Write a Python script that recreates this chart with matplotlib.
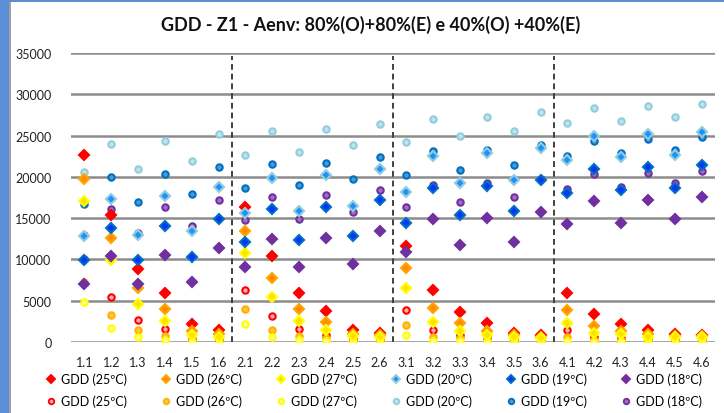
import matplotlib
matplotlib.use("Agg")
import matplotlib.pyplot as plt
from matplotlib.lines import Line2D
from matplotlib.patches import Rectangle

plt.rcParams['font.family'] = ['Lato', 'DejaVu Sans']

# categorias
cats = ['1.1', '1.2', '1.3', '1.4', '1.5', '1.6',
        '2.1', '2.2', '2.3', '2.4', '2.5', '2.6',
        '3.1', '3.2', '3.3', '3.4', '3.5', '3.6',
        '4.1', '4.2', '4.3', '4.4', '4.5', '4.6']

# losangos (80%)
d25 = [22700, 15400, 8900, 5950, 2200, 1500,
       16350, 10400, 5900, 3800, 1500, 1150,
       11650, 6300, 3600, 2300, 1050, 850,
       5950, 3450, 2150, 1400, 950, 900]
d26 = [19800, 12600, 6500, 4000, 1300, 950,
       13450, 7800, 3950, 2400, 1000, 900,
       8950, 4100, 2250, 1350, 800, 650,
       3850, 1950, 1300, 950, 750, 750]
d27 = [17050, 9900, 4550, 2600, 900, 650,
       10750, 5500, 2600, 1500, 750, 600,
       6500, 2450, 1350, 900, 550, 450,
       2300, 1050, 950, 650, 550, 550]
d20 = [12800, 17300, 12950, 17700, 13450, 18750,
       15650, 19900, 15900, 20250, 16450, 21000,
       18150, 22550, 19200, 22850, 19650, 23550,
       22000, 24950, 22400, 25150, 22650, 25400]
d19 = [9950, 13750, 9900, 14000, 10250, 14950,
       12150, 16100, 12350, 16400, 12800, 17150,
       14450, 18600, 15350, 18850, 15850, 19650,
       18100, 21000, 18350, 21200, 18700, 21450]
d18 = [7050, 10400, 7050, 10500, 7300, 11350,
       9050, 12500, 9100, 12650, 9400, 13400,
       10900, 14850, 11700, 15050, 12100, 15800,
       14250, 17050, 14450, 17250, 14850, 17550]

# circulos (40%)
c25 = [10000, 5450, 2700, 1550, 350, 300,
       6250, 3100, 1550, 900, 400, 300,
       3850, 1450, 800, 500, 250, 300,
       1500, 650, 500, 400, 300, 300]
c26 = [7300, 3300, 1400, 700, 250, 500,
       4000, 1500, 700, 500, 250, 250,
       2050, 550, 500, 400, 150, 150,
       600, 300, 300, 250, 150, 200]
c27 = [4900, 1700, 650, 200, 50, 50,
       2200, 550, 200, 100, 50, 50,
       900, 100, 100, 50, 50, 50,
       100, 50, 50, 50, 50, 50]
c20 = [20600, 24000, 20950, 24300, 21900, 25150,
       22650, 25550, 22950, 25750, 23850, 26450,
       24250, 27050, 24900, 27250, 25500, 27850,
       26500, 28350, 26750, 28550, 27200, 28800]
c19 = [16700, 20000, 16950, 20300, 17950, 21150,
       18600, 21500, 19000, 21700, 19800, 22400,
       20200, 23100, 20850, 23300, 21450, 23850,
       22550, 24350, 22850, 24550, 23300, 24800]
c18 = [12950, 16050, 13200, 16300, 14000, 17150,
       14750, 17550, 14950, 17750, 15800, 18400,
       16300, 19050, 16900, 19200, 17550, 19750,
       18550, 20300, 18750, 20450, 19200, 20700]

labels = ['GDD (25ºC)', 'GDD (26ºC)', 'GDD (27ºC)', 'GDD (20ºC)', 'GDD (19ºC)', 'GDD (18ºC)']

# (valores, cor borda, cor interior)
diamantes = [(d25, '#ff0000', '#ff0000'),
             (d26, '#ffa500', '#ff8c00'),
             (d27, '#ffff00', '#ffe000'),
             (d20, '#92cddc', '#1e90ff'),
             (d19, '#0070c0', '#0033ff'),
             (d18, '#7030a0', '#7030a0')]
circulos = [(c25, '#ff0000', '#ffb0b0'),
            (c26, '#ffb000', '#ffc840'),
            (c27, '#ffff00', '#ffff99'),
            (c20, '#92cddc', '#c0e4ee'),
            (c19, '#0070c0', '#4a9ad6'),
            (c18, '#7030a0', '#a070c0')]

fig = plt.figure(figsize=(7.24, 4.14), dpi=100)
ax = fig.add_axes([71 / 724, 1 - 343 / 414, (715 - 71) / 724, (343 - 54) / 414])

x = list(range(len(cats)))

for vals, ec, fc in circulos:
    ax.plot(x, vals, linestyle='none', marker='o', markersize=4.6,
            markeredgecolor=ec, markerfacecolor=fc, markeredgewidth=1.5, zorder=3)
for vals, ec, fc in diamantes:
    ax.plot(x, vals, linestyle='none', marker='D', markersize=4.8,
            markeredgecolor=ec, markerfacecolor=fc, markeredgewidth=1.5, zorder=4)

# separadores entre grupos
for xv in [5.5, 11.5, 17.5]:
    ax.plot([xv, xv], [0, 34600], color='#404040', lw=1.4, linestyle=(0, (3, 2)), zorder=2)

ax.set_xlim(-0.5, len(cats) - 0.5)
ax.set_ylim(0, 35000)
ax.set_yticks(range(0, 35001, 5000))
ax.set_xticks(x)
ax.set_xticklabels(cats)
ax.yaxis.grid(True, color='#8c8c8c', lw=1.8)
ax.set_axisbelow(True)
ax.tick_params(length=0, labelsize=9, colors='#222222')
ax.tick_params(axis='x', pad=10)
ax.tick_params(axis='y', pad=14)
for s in ax.spines.values():
    s.set_visible(False)

fig.text(371 / 724, 1 - 25 / 414, 'GDD - Z1 - Aenv: 80%(O)+80%(E) e 40%(O) +40%(E)',
         ha='center', va='center', fontsize=13, fontweight='bold', color='#111111')

# legenda em duas linhas
h1 = [Line2D([], [], linestyle='none', marker='D', markersize=4.5, markeredgecolor=ec,
             markerfacecolor=fc, markeredgewidth=1.4) for _, ec, fc in diamantes]
h2 = [Line2D([], [], linestyle='none', marker='o', markersize=4, markeredgecolor=ec,
             markerfacecolor=fc, markeredgewidth=1.3) for _, ec, fc in circulos]
for hs, yc in [(h1, 380), (h2, 402)]:
    fig.legend(hs, labels, ncol=6, loc='center left', frameon=False, fontsize=9,
               bbox_to_anchor=(46 / 724, 1 - (yc + 8) / 414, 656 / 724, 16 / 414),
               mode='expand', handlelength=0.8, handletextpad=0.4, borderpad=0,
               borderaxespad=0)

# moldura (seleção do gráfico)
fig.patches.append(Rectangle((0, 0), 9 / 724, 1, transform=fig.transFigure,
                             facecolor='#5b8ed6', edgecolor='none', zorder=10))
fig.patches.append(Rectangle((0, 1 - 3 / 414), 1, 3 / 414, transform=fig.transFigure,
                             facecolor='#5b8ed6', edgecolor='none', zorder=10))
fig.patches.append(Rectangle((9 / 724, 0), 2 / 724, 1 - 3 / 414, transform=fig.transFigure,
                             facecolor='#a0a0a0', edgecolor='none', zorder=10))

fig.savefig('out.png', dpi=100)
